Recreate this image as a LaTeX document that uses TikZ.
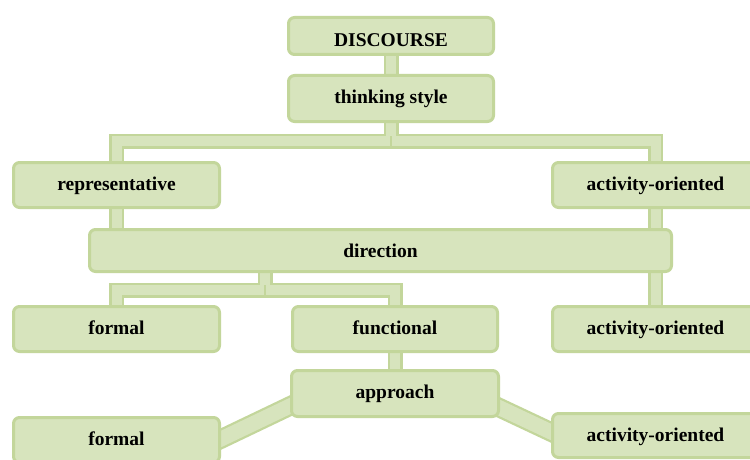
\documentclass[tikz,border=0pt]{standalone}
\usepackage{fontspec}
\setmainfont{Liberation Serif}
\usetikzlibrary{calc,backgrounds}
\definecolor{boxfill}{HTML}{D7E4BD}
\definecolor{boxline}{HTML}{C3D69B}
\pgfdeclarelayer{paper}
\pgfsetlayers{paper,background,main}
\begin{document}
\begin{tikzpicture}[x=1pt,y=-1pt,
  box/.style={draw=boxline, fill=boxfill, line width=3pt, rounded corners=6pt, inner sep=0pt},
  lbl/.style={font=\bfseries\fontsize{19.5}{22}\selectfont, anchor=base, inner sep=0pt, text=black},
  pipeB/.style={draw=boxline, line width=15pt},
  pipeF/.style={draw=boxfill, line width=10pt},
  pipe/.style={pipeB, postaction={pipeF}},
  pipeD/.style={draw=boxline, line width=19.5pt, postaction={draw=boxfill, line width=15pt}},
  seam/.style={draw=boxline, line width=1.2pt},
]
\useasboundingbox (0,0) rectangle (750,460);
\begin{pgfonlayer}{paper}
\fill[white] (0,0) rectangle (750,460);
\end{pgfonlayer}

% boxes
\node[box, minimum width=205pt, minimum height=37pt] (DISC) at (391,36) {};
\node[box, minimum width=205pt, minimum height=46pt] (TS) at (391,98.5) {};
\node[box, minimum width=206pt, minimum height=45pt] (REP) at (116.5,185) {};
\node[box, minimum width=206pt, minimum height=45pt] (ACT1) at (655.5,185) {};
\node[box, minimum width=582pt, minimum height=42pt] (DIR) at (380.5,250.5) {};
\node[box, minimum width=206pt, minimum height=45pt] (FOR) at (116.5,329) {};
\node[box, minimum width=205pt, minimum height=45pt] (FUN) at (395,329) {};
\node[box, minimum width=206pt, minimum height=45pt] (ACT2) at (655.5,329) {};
\node[box, minimum width=207pt, minimum height=46pt] (APP) at (395,393.5) {};
\node[box, minimum width=206pt, minimum height=45pt] (FOR2) at (116.5,440) {};
\node[box, minimum width=206pt, minimum height=44pt] (ACT3) at (655.5,435.5) {};

% labels
\node[lbl] (tDISC) at ($(DISC.north)+(0,31)$) {DISCOURSE};
\node[lbl] (tTS) at ($(TS.north)+(0,29.5)$) {thinking style};
\node[lbl] (tREP) at ($(REP.north)+(0,29.5)$) {representative};
\node[lbl] (tACT1) at ($(ACT1.north)+(0,29.5)$) {activity-oriented};
\node[lbl] (tDIR) at ($(DIR.north)+(0,29.5)$) {direction};
\node[lbl] (tFOR) at ($(FOR.north)+(0,29.5)$) {formal};
\node[lbl] (tFUN) at ($(FUN.north)+(0,29.5)$) {functional};
\node[lbl] (tACT2) at ($(ACT2.north)+(0,29.5)$) {activity-oriented};
\node[lbl] (tAPP) at ($(APP.north)+(0,29.5)$) {approach};
\node[lbl] (tFOR2) at ($(FOR2.north)+(0,29.5)$) {formal};
\node[lbl] (tACT3) at ($(ACT3.north)+(0,29.5)$) {activity-oriented};

% pipes
\coordinate (j1) at ($(TS.south)+(0,18)$);
\coordinate (dj) at ($(DIR.west)!0.3026!(DIR.east)$);
\coordinate (j2) at ($(dj |- DIR.south)+(0,17)$);
\coordinate (a1) at ($(APP.west)+(0,12.5)$);
\coordinate (b1) at ($(FOR2.east)+(0,-1)$);
\coordinate (a2) at ($(APP.east)+(0,14.5)$);
\coordinate (b2) at ($(ACT3.west)+(0,-3.5)$);
\begin{scope}[on background layer]
\draw[pipe] (DISC) -- (TS);
% first tee
\path[pipeB] (TS) -- (j1) -| (REP);
\path[pipeB] (TS) -- (j1) -| (ACT1);
\path[pipeF] (TS) -- (j1) -| (REP);
\path[pipeF] (TS) -- (j1) -| (ACT1);
\path[seam] ($(j1)+(0,-5)$) -- ($(j1)+(0,5)$);
\draw[pipe] (REP) -- (REP |- DIR);
\draw[pipe] (ACT1) -- (ACT2);
% second tee
\path[pipeB] (dj) -- (j2) -| (FOR);
\path[pipeB] (dj) -- (j2) -| (FUN);
\path[pipeF] (dj) -- (j2) -| (FOR);
\path[pipeF] (dj) -- (j2) -| (FUN);
\path[seam] ($(j2)+(0,-5)$) -- ($(j2)+(0,5)$);
\draw[pipe] (FUN) -- (APP);
\draw[pipeD] ($(a1)!-12pt!(b1)$) -- ($(b1)!-12pt!(a1)$);
\draw[pipeD] ($(a2)!-12pt!(b2)$) -- ($(b2)!-12pt!(a2)$);
\end{scope}
\end{tikzpicture}
\end{document}
